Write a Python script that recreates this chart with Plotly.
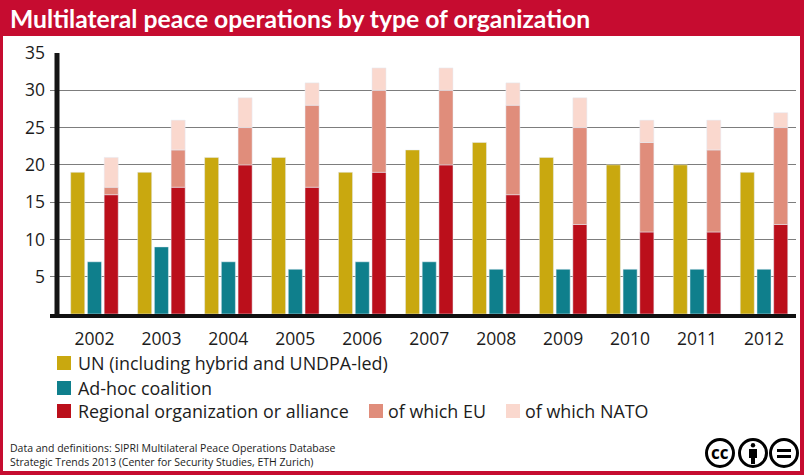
import plotly.graph_objects as go

W, H = 804, 475
years = [2002, 2003, 2004, 2005, 2006, 2007, 2008, 2009, 2010, 2011, 2012]
un = [19, 19, 21, 21, 19, 22, 23, 21, 20, 20, 19]
adhoc = [7, 9, 7, 6, 7, 7, 6, 6, 6, 6, 6]
regional = [16, 17, 20, 17, 19, 20, 16, 12, 11, 11, 12]
eu = [1, 5, 5, 11, 11, 10, 12, 13, 12, 11, 13]
nato = [4, 4, 4, 3, 3, 3, 3, 4, 3, 4, 2]
y_ticks = [5, 10, 15, 20, 25, 30, 35]

C_UN, C_AD, C_REG = "#C9A80F", "#0F7F8C", "#BB0F1B"
C_EU, C_NATO = "#E08D7B", "#FAD8CE"
FRAME = "#C60C30"
FONT = "Open Sans"
INK = "#1c1c1c"


def px(x):
    return x / W


def py(y):
    return 1 - y / H


eu_base = regional
nato_base = [r + e for r, e in zip(regional, eu)]

fig = go.Figure()
fig.add_bar(x=years, y=un, name="UN", marker_color=C_UN, offsetgroup="a")
fig.add_bar(x=years, y=adhoc, name="Ad-hoc", marker_color=C_AD, offsetgroup="b")
fig.add_bar(x=years, y=regional, name="Regional", marker_color=C_REG, offsetgroup="c")
fig.add_bar(x=years, y=eu, base=eu_base, name="EU", marker_color=C_EU, offsetgroup="c")
fig.add_bar(x=years, y=nato, base=nato_base, name="NATO", marker_color=C_NATO, offsetgroup="c")

shapes = [
    dict(type="rect", xref="paper", yref="paper", x0=px(3), x1=px(800), y0=py(36), y1=py(471),
         fillcolor="white", line_width=0, layer="below"),
    dict(type="line", xref="paper", yref="paper", x0=px(57), x1=px(57), y0=py(53), y1=py(315),
         line=dict(color="#151515", width=5)),
]


def swatch(x, y, c):
    shapes.append(dict(type="rect", xref="paper", yref="paper", x0=px(x), x1=px(x + 14),
                       y0=py(y - 7), y1=py(y + 7), fillcolor=c, line_width=0))


annotations = []


def text(x, y, s, size, color=INK, anchor="left", weight=None, family=FONT):
    if weight:
        s = f"<b>{s}</b>"
    annotations.append(dict(xref="paper", yref="paper", x=px(x), y=py(y), text=s, showarrow=False,
                            xanchor=anchor, yanchor="middle", xshift=0, borderpad=0,
                            font=dict(family=family, size=size, color=color)))


text(9, 18, "Multilateral peace operations by type of organization", 24.7, "white", weight=True, family="Lato")

legend_items = [
    (57, 363, C_UN, "UN (including hybrid and UNDPA-led)", 78),
    (57, 388, C_AD, "Ad-hoc coalition", 78),
    (57, 411, C_REG, "Regional organization or alliance", 78),
    (369, 411, C_EU, "of which EU", 388),
    (506, 411, C_NATO, "of which NATO", 525),
]
for sx, sy, c, label, tx in legend_items:
    swatch(sx, sy, c)
    text(tx - 1, sy, label, 17.9)

text(9, 448, "Data and definitions: SIPRI Multilateral Peace Operations Database", 10.5)
text(9, 462, "Strategic Trends 2013 (Center for Security Studies, ETH Zurich)", 10.5)

# Creative-commons badges
for cx in (720, 753, 784):
    shapes.append(dict(type="circle", xref="paper", yref="paper", x0=px(cx - 13.5), x1=px(cx + 13.5),
                       y0=py(453 - 13.5), y1=py(453 + 13.5), line=dict(color="black", width=3),
                       fillcolor="white"))
text(720, 452, "cc", 17, "black", "center", True)
shapes.append(dict(type="circle", xref="paper", yref="paper", x0=px(750.8), x1=px(755.2),
                   y0=py(443), y1=py(447.4), fillcolor="black", line_width=0))
shapes.append(dict(type="rect", xref="paper", yref="paper", x0=px(749), x1=px(757),
                   y0=py(449), y1=py(458), fillcolor="black", line_width=0))
shapes.append(dict(type="rect", xref="paper", yref="paper", x0=px(751), x1=px(755),
                   y0=py(458), y1=py(464), fillcolor="black", line_width=0))
for yy in (449, 455):
    shapes.append(dict(type="rect", xref="paper", yref="paper", x0=px(777), x1=px(791),
                       y0=py(yy), y1=py(yy + 3), fillcolor="black", line_width=0))

fig.update_layout(
    width=W, height=H, autosize=False,
    margin=dict(l=0, r=0, t=0, b=0, pad=0, autoexpand=False),
    paper_bgcolor=FRAME, plot_bgcolor="rgba(0,0,0,0)",
    showlegend=False,
    barmode="group", bargap=0.25, bargroupgap=0.16,
    font=dict(family=FONT, color=INK),
    shapes=shapes, annotations=annotations,
    xaxis=dict(domain=[px(50), px(796)], range=[2001.336, 2012.478], automargin=False,
               tickmode="array", tickvals=years, ticktext=[str(v) for v in years],
               tickfont=dict(size=17.5, family=FONT, color=INK), ticks="", showgrid=False,
               zeroline=False, showline=True, linecolor="#111111", linewidth=4,
               ticklabelstandoff=6),
    yaxis=dict(domain=[py(314), py(53)], range=[0, 35], automargin=False,
               tickmode="array", tickvals=y_ticks, ticktext=[str(v) for v in y_ticks],
               tickfont=dict(size=17.5, family=FONT, color=INK), ticks="", showgrid=True,
               gridcolor="#7d7d7d", gridwidth=1, zeroline=False, showline=False,
               ticklabelstandoff=4, layer="below traces"),
)

fig.write_html("out.html", post_script="document.body.style.margin='0';",
               config={"displayModeBar": False})
